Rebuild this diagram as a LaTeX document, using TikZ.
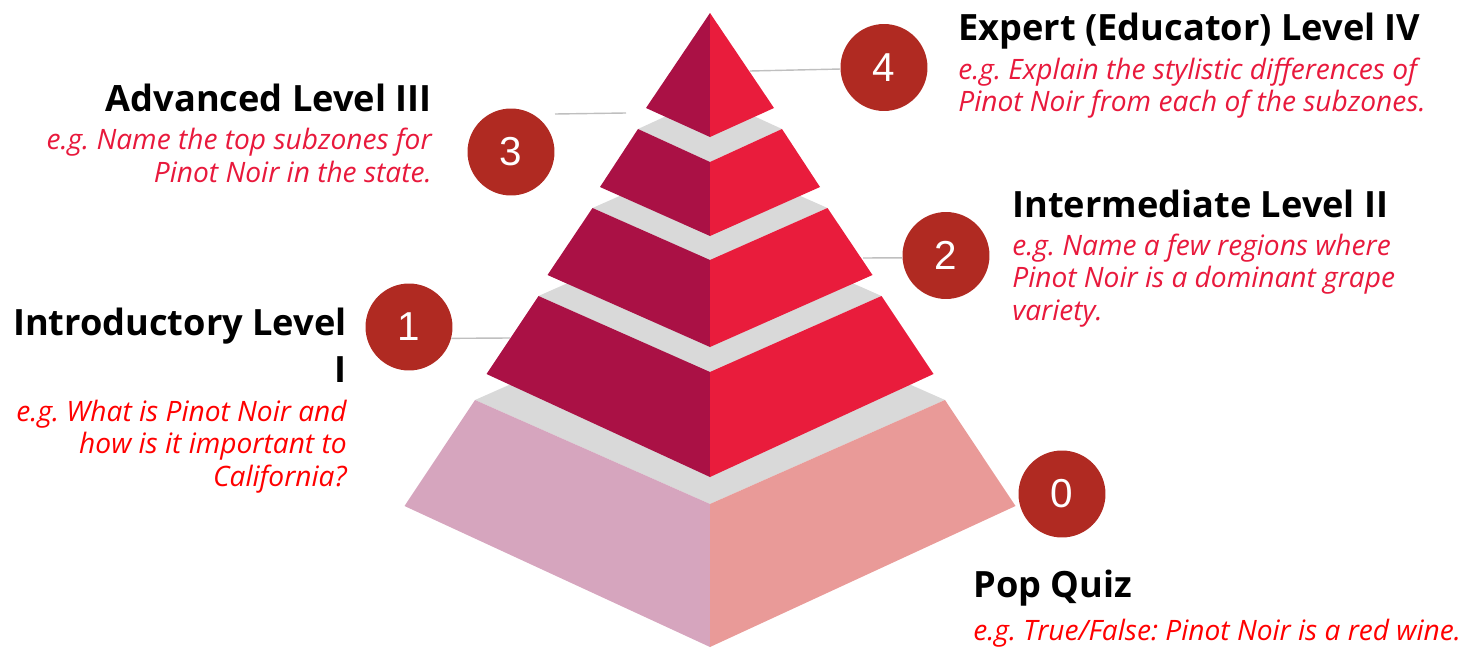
\documentclass[tikz,border=0pt]{standalone}
\usepackage{fontspec}
\setmainfont{Open Sans}
\newfontfamily\numfont{Liberation Sans}
\frenchspacing
\definecolor{wineDark}{RGB}{170,17,69}
\definecolor{wineBright}{RGB}{233,28,60}
\definecolor{topGray}{RGB}{217,217,217}
\definecolor{baseLeft}{RGB}{214,165,190}
\definecolor{baseRight}{RGB}{233,154,152}
\definecolor{badgeRed}{RGB}{176,42,34}
\definecolor{descRed}{RGB}{232,25,60}
\definecolor{leaderGray}{RGB}{191,191,191}
\newcommand{\PyrMid}{710}

\begin{document}
\begin{tikzpicture}[
        x=0.02cm, y=-0.02cm,
        badge/.style={circle, fill=badgeRed, minimum size=1.74cm, inner sep=0pt, text=white, font=\numfont\fontsize{23}{23}\selectfont},
        lvltitle/.style={inner sep=0pt, font=\bfseries\fontsize{20.6}{26.6}\selectfont},
        lvldesc/.style={inner sep=0pt, text=descRed, font=\itshape\fontsize{16}{18.4}\selectfont},
        leader/.style={draw=leaderGray, line width=0.8pt},
    ]
    \useasboundingbox (0,0) rectangle (1472,649);

    % Tiers, bottom first: top half width / top y / top front y / bottom half width / bottom y / bottom front y
    \foreach \wt/\yt/\ft/\wb/\yb/\fb/\cl/\cr in {
        235/400/504/305.5/506/647/baseLeft/baseRight,
        171.5/296/372/223.5/374/477/wineDark/wineBright,
        117.5/208/260/162.5/275/347/wineDark/wineBright,
        72/129/162/110/187/236/wineDark/wineBright}{
        \fill[topGray] (\PyrMid-\wt,\yt) -- (\PyrMid,2*\yt-\ft) -- (\PyrMid+\wt,\yt) -- (\PyrMid,\ft) -- cycle;
        \fill[\cl] (\PyrMid-\wt,\yt) -- (\PyrMid,\ft) -- (\PyrMid,\fb) -- (\PyrMid-\wb,\yb) -- cycle;
        \fill[\cr] (\PyrMid+\wt,\yt) -- (\PyrMid,\ft) -- (\PyrMid,\fb) -- (\PyrMid+\wb,\yb) -- cycle;
    }

    % Top
    \fill[wineDark] (\PyrMid,13) -- (646,108) -- (\PyrMid,137) -- cycle;
    \fill[wineBright] (\PyrMid,13) -- (\PyrMid,137) -- (774,108) -- cycle;

    % Badges
    \node[badge] (c4) at (884,67.5) {4};
    \node[badge] (c3) at (511,152) {3};
    \node[badge] (c2) at (946,255.5) {2};
    \node[badge] (c1) at (409,327) {1};
    \node[badge] (c0) at (1062,494) {0};

    % Leader lines
    \coordinate (p4) at (750,71);
    \coordinate (p3a) at (555,114);
    \coordinate (p3b) at (626,113);
    \coordinate (p2) at (863,258);
    \coordinate (p1) at (510,338);
    \draw[leader] (p4) -- (c4.182);
    \draw[leader] (p3a) -- (p3b);
    \draw[leader] (p2) -- (c2.183);
    \draw[leader] (c1.-15) -- (p1);

    % Level texts (multi-line nodes sit on their last baseline)
    \node[lvltitle, anchor=base west] (t4) at (958,40) {Expert (Educator) Level IV};
    \node[lvldesc, anchor=base west, align=left] (d4) at (958,111.7) {e.g. Explain the stylistic differences of\\Pinot Noir from each of the subzones.};
    \node[lvltitle, anchor=base east] (t3) at (432,112) {Advanced Level III};
    \node[lvldesc, anchor=base east, align=right] (d3) at (432,182) {e.g. Name the top subzones for\\Pinot Noir in the state.};
    \node[lvltitle, anchor=base west] (t2) at (1012,217) {Intermediate Level II};
    \node[lvldesc, anchor=base west, align=left] (d2) at (1012,320) {e.g. Name a few regions where\\Pinot Noir is a dominant grape\\variety.};
    \node[lvltitle, anchor=base east, align=right] (t1) at (347,382) {Introductory Level\\I};
    \node[lvldesc, anchor=base east, align=right, text=red] (d1) at (347,486) {e.g. What is Pinot Noir and\\how is it important to\\California?};
    \node[lvltitle, anchor=base west] (t0) at (973,597) {Pop Quiz};
    \node[lvldesc, anchor=base west, text=red] (d0) at (973,640) {e.g. True/False: Pinot Noir is a red wine.};
\end{tikzpicture}
\end{document}
